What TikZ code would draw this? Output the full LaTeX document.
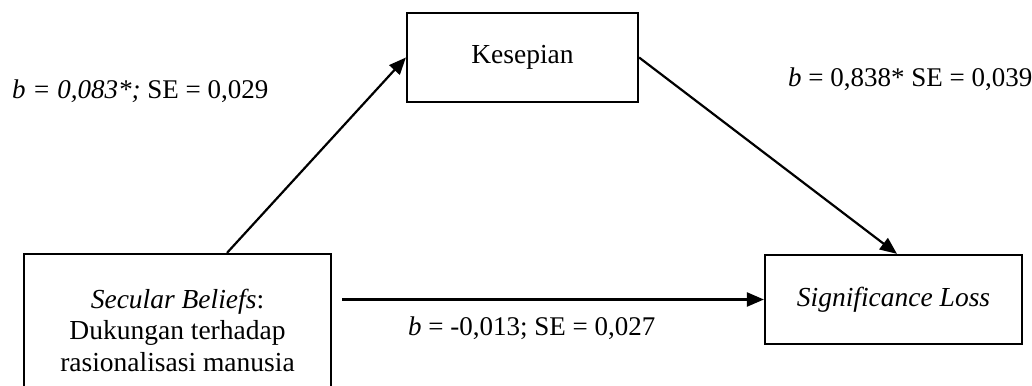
\documentclass[tikz,border=0pt]{standalone}
\usepackage{fontspec}
\setmainfont{Liberation Serif}
\usetikzlibrary{arrows.meta}
\begin{document}
\begin{tikzpicture}[x=1pt,y=-1pt,
  boxnode/.style={draw,line width=2.2pt,rectangle,align=center,inner sep=0pt,
    font=\fontsize{27.5}{31.5}\selectfont},
  lbl/.style={inner sep=0pt,anchor=base west,font=\fontsize{27}{31.5}\selectfont},
  arr/.style={line width=2.2pt,-{Triangle[length=17pt,width=14pt]}}]
\useasboundingbox (0,0) rectangle (1032,385);
\clip (0,0) rectangle (1032,385);
\node[boxnode,minimum width=307pt,minimum height=152pt] (sec) at (177.5,330)
  {\textit{Secular Beliefs}:\\Dukungan terhadap\\rasionalisasi manusia};
\node[boxnode,minimum width=231pt,minimum height=89pt] (kes) at (522.5,57.5) {Kesepian};
\node[boxnode,minimum width=257pt,minimum height=89pt] (sig) at (893.5,299.5) {\textit{Significance Loss}};
\draw[arr] ([xshift=49.5pt]sec.north) -- (kes.west);
\draw[arr] (kes.east) -- ([xshift=3.5pt]sig.north);
\draw[arr] ([xshift=10pt]sec.east |- sig.west) -- (sig.west);
\node[lbl] (l1) at (12,99) {\textit{b = 0,083*;} SE = 0,029};
\node[lbl] (l2) at (788,87) {\textit{b} = 0,838* SE = 0,039};
\node[lbl] (l3) at (408,335) {\textit{b} = -0,013; SE = 0,027};
\end{tikzpicture}
\end{document}
